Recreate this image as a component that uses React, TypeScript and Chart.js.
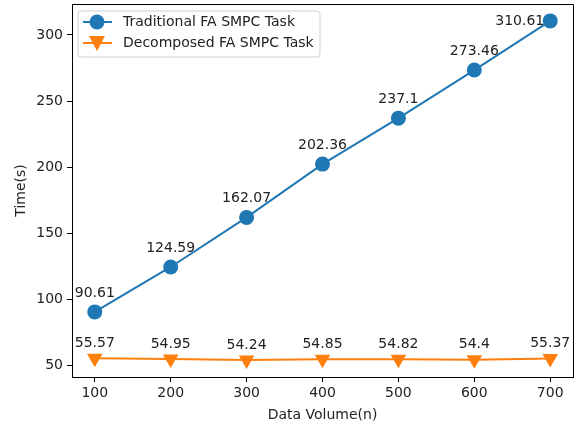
import React, { useEffect, useRef } from "react";
import { Chart, registerables } from "chart.js";

Chart.register(...registerables);

const dataVolumes = [100, 200, 300, 400, 500, 600, 700];
const traditionalTimes = [90.61, 124.59, 162.07, 202.36, 237.1, 273.46, 310.61];
const decomposedTimes = [55.57, 54.95, 54.24, 54.85, 54.82, 54.4, 55.37];
const xTickValues = [100, 200, 300, 400, 500, 600, 700];
const yTickValues = [50, 100, 150, 200, 250, 300];
const seriesNames = ["Traditional FA SMPC Task", "Decomposed FA SMPC Task"];

const BLUE = "#1f77b4";
const ORANGE = "#ff7f0e";
const FONT = "'DejaVu Sans', sans-serif";
const FS = 14;

export default function App() {
  const ref = useRef<HTMLCanvasElement | null>(null);

  useEffect(() => {
    const canvas = ref.current;
    if (!canvas) return;

    const spinePlugin = {
      id: "spines",
      afterDraw(chart: any) {
        const ctx = chart.ctx;
        const a = chart.chartArea;
        ctx.save();
        ctx.strokeStyle = "#000";
        ctx.lineWidth = 1;
        ctx.beginPath();
        ctx.moveTo(a.left, a.top + 0.5);
        ctx.lineTo(a.right + 0.5, a.top + 0.5);
        ctx.lineTo(a.right + 0.5, a.bottom);
        ctx.stroke();
        ctx.restore();
      },
    };

    const labelPlugin = {
      id: "valueLabels",
      afterDatasetsDraw(chart: any) {
        const ctx = chart.ctx;
        ctx.save();
        ctx.font = `${FS}px ${FONT}`;
        ctx.fillStyle = "#222";
        chart.data.datasets.forEach((ds: any, di: number) => {
          const meta = chart.getDatasetMeta(di);
          meta.data.forEach((pt: any, i: number) => {
            const v = ds.data[i].y;
            const text = String(v);
            if (di === 0 && i === ds.data.length - 1) {
              ctx.textAlign = "right";
              ctx.textBaseline = "middle";
              ctx.fillText(text, pt.x - 6, pt.y);
            } else {
              ctx.textAlign = "center";
              ctx.textBaseline = "bottom";
              ctx.fillText(text, pt.x, pt.y - (di === 0 ? 12 : 8));
            }
          });
        });
        ctx.restore();
      },
    };

    const legendPlugin = {
      id: "mplLegend",
      afterDraw(chart: any) {
        const ctx = chart.ctx;
        const a = chart.chartArea;
        const x0 = a.left + 6;
        const y0 = a.top + 7;
        const w = 242;
        const h = 46;
        ctx.save();
        ctx.fillStyle = "rgba(255,255,255,0.8)";
        ctx.strokeStyle = "#d0d0d0";
        ctx.lineWidth = 1;
        const r = 3;
        ctx.beginPath();
        ctx.moveTo(x0 + r, y0);
        ctx.lineTo(x0 + w - r, y0);
        ctx.quadraticCurveTo(x0 + w, y0, x0 + w, y0 + r);
        ctx.lineTo(x0 + w, y0 + h - r);
        ctx.quadraticCurveTo(x0 + w, y0 + h, x0 + w - r, y0 + h);
        ctx.lineTo(x0 + r, y0 + h);
        ctx.quadraticCurveTo(x0, y0 + h, x0, y0 + h - r);
        ctx.lineTo(x0, y0 + r);
        ctx.quadraticCurveTo(x0, y0, x0 + r, y0);
        ctx.closePath();
        ctx.fill();
        ctx.stroke();

        const rows = [y0 + 11, y0 + 32];
        const colors = [BLUE, ORANGE];
        rows.forEach((ry, i) => {
          ctx.strokeStyle = colors[i];
          ctx.lineWidth = 2;
          ctx.beginPath();
          ctx.moveTo(x0 + 5, ry);
          ctx.lineTo(x0 + 34, ry);
          ctx.stroke();
          ctx.fillStyle = colors[i];
          const cx = x0 + 19;
          if (i === 0) {
            ctx.beginPath();
            ctx.arc(cx, ry, 7.5, 0, Math.PI * 2);
            ctx.fill();
          } else {
            ctx.beginPath();
            ctx.moveTo(cx - 8, ry - 7);
            ctx.lineTo(cx + 8, ry - 7);
            ctx.lineTo(cx, ry + 8);
            ctx.closePath();
            ctx.fill();
          }
          ctx.fillStyle = "#222";
          ctx.font = `${FS}px ${FONT}`;
          ctx.textAlign = "left";
          ctx.textBaseline = "middle";
          ctx.fillText(seriesNames[i], x0 + 45, ry);
        });
        ctx.restore();
      },
    };

    const chart = new Chart(canvas, {
      type: "line",
      data: {
        datasets: [
          {
            label: seriesNames[0],
            data: dataVolumes.map((x, i) => ({ x, y: traditionalTimes[i] })),
            borderColor: BLUE,
            backgroundColor: BLUE,
            borderWidth: 2,
            pointStyle: "circle",
            pointRadius: 7.5,
            pointBorderWidth: 0,
            tension: 0,
          },
          {
            label: seriesNames[1],
            data: dataVolumes.map((x, i) => ({ x, y: decomposedTimes[i] })),
            borderColor: ORANGE,
            backgroundColor: ORANGE,
            borderWidth: 2,
            pointStyle: "triangle",
            pointRotation: 180,
            pointRadius: 9,
            pointBorderWidth: 0,
            tension: 0,
          },
        ],
      },
      options: {
        responsive: false,
        animation: false,
        maintainAspectRatio: false,
        layout: { autoPadding: false, padding: { left: 0, right: 6, top: 4, bottom: 0 } },
        plugins: {
          legend: { display: false },
          tooltip: { enabled: false },
        },
        scales: {
          x: {
            type: "linear",
            min: 70,
            max: 730,
            afterBuildTicks: (s: any) => {
              s.ticks = xTickValues.map((v) => ({ value: v }));
            },
            afterFit: (s: any) => {
              s.height = 50;
              s.paddingLeft = 0;
              s.paddingRight = 0;
            },
            border: { display: true, color: "#000", width: 1 },
            grid: {
              drawOnChartArea: false,
              drawTicks: true,
              tickLength: 5,
              tickColor: "#000",
            },
            ticks: {
              color: "#222",
              font: { family: FONT, size: FS },
              padding: 3,
              maxRotation: 0,
            },
            title: {
              display: true,
              text: "Data Volume(n)",
              color: "#222",
              font: { family: FONT, size: FS },
              padding: { top: 2, bottom: 3 },
            },
          },
          y: {
            type: "linear",
            min: 41.4,
            max: 323.4,
            afterBuildTicks: (s: any) => {
              s.ticks = yTickValues.map((v) => ({ value: v }));
            },
            afterFit: (s: any) => {
              s.width = 72;
              s.paddingTop = 0;
              s.paddingBottom = 0;
            },
            border: { display: true, color: "#000", width: 1 },
            grid: {
              drawOnChartArea: false,
              drawTicks: true,
              tickLength: 5,
              tickColor: "#000",
            },
            ticks: {
              color: "#222",
              font: { family: FONT, size: FS },
              padding: 4,
            },
            title: {
              display: true,
              text: "Time(s)",
              color: "#222",
              font: { family: FONT, size: FS },
              padding: { top: 13, bottom: 4 },
            },
          },
        },
      },
      plugins: [labelPlugin, legendPlugin, spinePlugin],
    } as any);

    return () => chart.destroy();
  }, []);

  return (
    <div style={{ position: "fixed", left: 0, top: 0, width: 579, height: 427, background: "#fff" }}>
      <canvas ref={ref} width={579} height={427} style={{ display: "block" }} />
    </div>
  );
}
